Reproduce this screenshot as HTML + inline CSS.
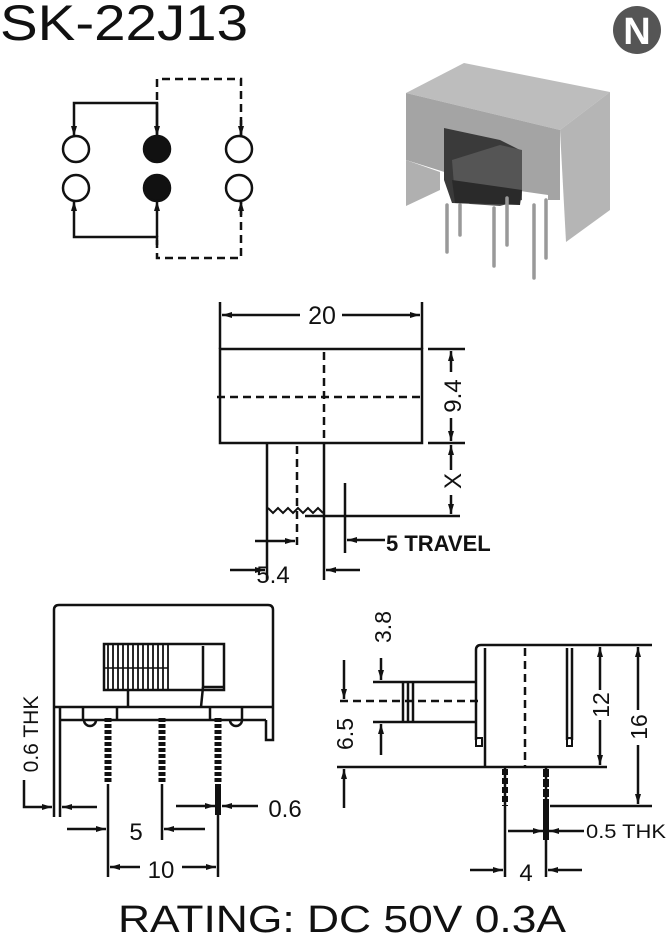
<!DOCTYPE html>
<html><head><meta charset="utf-8"><style>
html,body{margin:0;padding:0;background:#fff}
svg{display:block}
text{font-family:"Liberation Sans",Arial,sans-serif;fill:#111}
</style></head><body>
<svg width="666" height="938" viewBox="0 0 666 938" xmlns="http://www.w3.org/2000/svg">
<defs>
<marker id="a" viewBox="0 0 10 6" refX="10" refY="3" markerWidth="11" markerHeight="6" markerUnits="userSpaceOnUse" orient="auto"><path d="M0,0 L10,3 L0,6 z" fill="#111"/></marker>
</defs>
<text x="0" y="40" font-size="50" textLength="248" lengthAdjust="spacingAndGlyphs">SK-22J13</text>
<circle cx="637" cy="30" r="24" fill="#555"/>
<text x="637" y="44" font-size="38" font-weight="bold" text-anchor="middle" style="fill:#fff">N</text>

<!-- schematic -->
<g stroke="#111" stroke-width="2.5" fill="none">
<circle cx="76" cy="149" r="13"/><circle cx="239" cy="149" r="13"/>
<circle cx="76" cy="188" r="13"/><circle cx="239" cy="188" r="13"/>
<circle cx="157" cy="149" r="13" fill="#111"/><circle cx="157" cy="188" r="13" fill="#111"/>
<path d="M157,136 V103 H74 V136" marker-end="url(#a)"/>
<path d="M157,103 V136" marker-end="url(#a)"/>
<path d="M157,245 V237 H74 V201" marker-end="url(#a)"/>
<path d="M157,237 V201" marker-end="url(#a)"/>
<path d="M157,100 V79 H241 V136" stroke-dasharray="8,5"/>
<path d="M157,240 V258 H241 V201" stroke-dasharray="8,5"/>
<path d="M241,120 V136" marker-end="url(#a)"/>
<path d="M241,215 V201" marker-end="url(#a)"/>
</g>

<!-- photo -->
<g stroke="none">
<polygon points="406,93 464,63 610,92 560,130" fill="#bdbdbd"/>
<polygon points="406,93 560,130 560,200 548,200 548,195 486,186 470,180 406,160" fill="#a4a4a4"/>
<polygon points="560,130 610,92 610,210 566,242" fill="#b5b5b5"/>
<polygon points="406,160 440,172 440,190 406,206" fill="#b0b0b0"/>
<polygon points="444,128 500,140 520,150 520,200 500,205 452,203 444,180" fill="#3a3a3a"/>
<polygon points="452,160 500,145 522,150 522,200 500,206 470,204 455,198" fill="#555"/>
<polygon points="452,180 522,190 520,205 455,203" fill="#2a2a2a"/>
</g>
<g stroke="#999" stroke-width="3.5" stroke-linecap="round">
<line x1="447" y1="205" x2="447" y2="252"/><line x1="460" y1="205" x2="460" y2="235"/>
<line x1="494" y1="208" x2="494" y2="266"/><line x1="507" y1="198" x2="507" y2="245"/>
<line x1="534" y1="205" x2="534" y2="278"/><line x1="546" y1="200" x2="546" y2="258"/>
</g>

<!-- middle drawing -->
<g stroke="#111" stroke-width="2.5" fill="none">
<rect x="220" y="349" width="202" height="94"/>
<line x1="324" y1="352" x2="324" y2="443" stroke-dasharray="8,5"/>
<line x1="217" y1="397" x2="424" y2="397" stroke-dasharray="8,5"/>
<line x1="220" y1="302" x2="220" y2="349"/><line x1="422" y1="302" x2="422" y2="349"/>
<path d="M300,315 H222" marker-end="url(#a)"/><path d="M342,315 H420" marker-end="url(#a)"/>
<line x1="428" y1="349" x2="465" y2="349"/><line x1="428" y1="443" x2="465" y2="443"/>
<path d="M451,372 V351" marker-end="url(#a)"/><path d="M451,418 V441" marker-end="url(#a)"/>
<path d="M451,470 V445" marker-end="url(#a)"/><path d="M451,495 V514" marker-end="url(#a)"/>
<line x1="267" y1="443" x2="267" y2="580"/><line x1="324" y1="443" x2="324" y2="580"/>
<line x1="297" y1="446" x2="297" y2="550" stroke-dasharray="8,5"/>
<path d="M268,508 l5,5 l5,-5 l5,5 l5,-5 l5,5 l5,-5 l5,5 l5,-5 l5,5 l5,-5 l5,5" stroke-width="2"/>
<line x1="305" y1="516" x2="460" y2="516"/>
<line x1="345" y1="483" x2="345" y2="553"/>
<path d="M385,540 H347" marker-end="url(#a)"/>
<path d="M255,541 H295" marker-end="url(#a)"/>
<path d="M230,570 H265" marker-end="url(#a)"/><path d="M360,570 H326" marker-end="url(#a)"/>
</g>
<text x="322" y="324" font-size="25" text-anchor="middle">20</text>
<text transform="translate(461,396) rotate(-90)" font-size="24" text-anchor="middle">9.4</text>
<text transform="translate(461,481) rotate(-90)" font-size="24" text-anchor="middle">X</text>
<text x="386" y="551" font-size="22" font-weight="bold">5 TRAVEL</text>
<text x="273" y="583" font-size="24" text-anchor="middle">5.4</text>

<!-- bottom left -->
<g stroke="#111" stroke-width="2.5" fill="none">
<path d="M54,817 V610 Q54,605 59,605 H268 Q273,605 273,610 V740 H266 V720"/>
<line x1="54" y1="707" x2="273" y2="707"/>
<line x1="60" y1="707" x2="60" y2="817"/>
<line x1="60" y1="720" x2="266" y2="720"/>
<rect x="104" y="644" width="120" height="46"/>
<path d="M203,646 V687 H224"/>
<line x1="128" y1="690" x2="128" y2="707"/><line x1="203" y1="687" x2="201" y2="707"/>
<line x1="83" y1="707" x2="83" y2="720"/><line x1="117" y1="707" x2="117" y2="720"/>
<line x1="210" y1="707" x2="210" y2="720"/><line x1="242" y1="707" x2="242" y2="720"/>
<path d="M84,720 a6,6 0 0 0 12,0"/><path d="M230,720 a6,6 0 0 0 12,0"/>
<line x1="104" y1="668" x2="168" y2="668" stroke-width="1.5"/>
</g>
<g stroke="#111" stroke-width="1.8">
<line x1="108" y1="644" x2="108" y2="690"/><line x1="113" y1="644" x2="113" y2="690"/><line x1="118" y1="644" x2="118" y2="690"/><line x1="123" y1="644" x2="123" y2="690"/><line x1="128" y1="644" x2="128" y2="690"/><line x1="133" y1="644" x2="133" y2="690"/><line x1="138" y1="644" x2="138" y2="690"/><line x1="143" y1="644" x2="143" y2="690"/><line x1="148" y1="644" x2="148" y2="690"/><line x1="153" y1="644" x2="153" y2="690"/><line x1="158" y1="644" x2="158" y2="690"/><line x1="163" y1="644" x2="163" y2="690"/><line x1="168" y1="644" x2="168" y2="690"/>
</g>
<g stroke="#111" fill="none">
<line x1="108" y1="718" x2="108" y2="784" stroke-width="7" stroke-dasharray="4,2"/>
<line x1="162" y1="718" x2="162" y2="784" stroke-width="7" stroke-dasharray="4,2"/>
<line x1="218" y1="718" x2="218" y2="784" stroke-width="7" stroke-dasharray="4,2"/>
<line x1="218" y1="784" x2="218" y2="815" stroke-width="6"/>
<g stroke-width="2.5">
<line x1="108" y1="784" x2="108" y2="877"/><line x1="162" y1="784" x2="162" y2="840"/><line x1="218" y1="815" x2="218" y2="877"/>
<path d="M24,780 V807 H52" marker-end="url(#a)"/>
<path d="M97,807 H62" marker-end="url(#a)"/>
<path d="M176,806 H215" marker-end="url(#a)"/>
<path d="M258,806 H222" marker-end="url(#a)"/>
<path d="M67,829 H106" marker-end="url(#a)"/>
<path d="M205,829 H164" marker-end="url(#a)"/>
<path d="M140,867 H110" marker-end="url(#a)"/>
<path d="M182,867 H216" marker-end="url(#a)"/>
</g></g>
<text transform="translate(38,734) rotate(-90)" font-size="21" text-anchor="middle">0.6 THK</text>
<text x="285" y="817" font-size="24" text-anchor="middle">0.6</text>
<text x="136" y="840" font-size="24" text-anchor="middle">5</text>
<text x="161" y="878" font-size="24" text-anchor="middle">10</text>

<!-- bottom right -->
<g stroke="#111" stroke-width="2.5" fill="none">
<path d="M476,740 V650 Q476,645 481,645 H652"/>
<line x1="485" y1="648" x2="485" y2="767"/>
<line x1="567" y1="648" x2="567" y2="740"/><line x1="572" y1="648" x2="572" y2="740"/>
<rect x="567" y="738" width="5" height="8" stroke-width="2"/>
<rect x="476" y="738" width="6" height="8" stroke-width="2"/>
<line x1="525" y1="648" x2="525" y2="767" stroke-dasharray="8,5"/>
<line x1="373" y1="682" x2="476" y2="682"/><line x1="373" y1="722" x2="476" y2="722"/>
<line x1="403" y1="682" x2="403" y2="722"/><line x1="408" y1="682" x2="408" y2="722"/><line x1="413" y1="682" x2="413" y2="722"/>
<line x1="340" y1="701" x2="480" y2="701" stroke-dasharray="8,5"/>
<line x1="337" y1="767" x2="607" y2="767"/>
<line x1="550" y1="806" x2="652" y2="806"/>
<path d="M600,690 V647" marker-end="url(#a)"/><path d="M600,720 V765" marker-end="url(#a)"/>
<path d="M638,710 V647" marker-end="url(#a)"/><path d="M638,745 V804" marker-end="url(#a)"/>
<path d="M381,658 V680" marker-end="url(#a)"/>
<path d="M381,755 V724" marker-end="url(#a)"/>
<path d="M344,660 V699" marker-end="url(#a)"/>
<path d="M344,808 V769" marker-end="url(#a)"/>
<line x1="505" y1="767" x2="505" y2="877"/><line x1="546" y1="767" x2="546" y2="877"/>
<path d="M508,831 H543" marker-end="url(#a)"/>
<path d="M584,831 H549" marker-end="url(#a)"/>
<path d="M470,870 H503" marker-end="url(#a)"/>
<path d="M582,870 H548" marker-end="url(#a)"/>
</g>
<g stroke="#111" fill="none" stroke-width="6">
<line x1="505" y1="769" x2="505" y2="806" stroke-dasharray="6,3"/>
<line x1="546" y1="769" x2="546" y2="806" stroke-dasharray="8,2"/>
<line x1="546" y1="806" x2="546" y2="840"/>
</g>
<text transform="translate(391,627) rotate(-90)" font-size="23" text-anchor="middle">3.8</text>
<text transform="translate(353,734) rotate(-90)" font-size="23" text-anchor="middle">6.5</text>
<text transform="translate(609,705) rotate(-90)" font-size="23" text-anchor="middle">12</text>
<text transform="translate(647,727) rotate(-90)" font-size="23" text-anchor="middle">16</text>
<text x="586" y="838" font-size="19" textLength="80" lengthAdjust="spacingAndGlyphs">0.5 THK</text>
<text x="526" y="881" font-size="24" text-anchor="middle">4</text>

<text x="118" y="932" font-size="38" textLength="448" lengthAdjust="spacingAndGlyphs">RATING: DC 50V 0.3A</text>
</svg>
</body></html>
